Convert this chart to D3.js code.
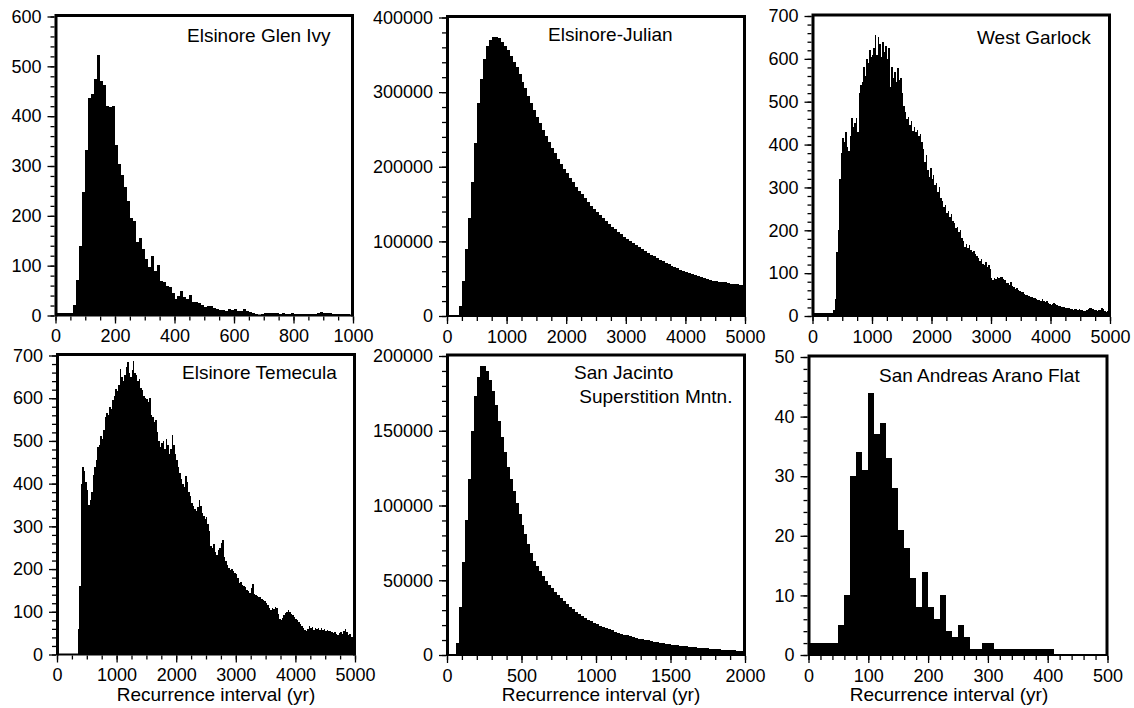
<!DOCTYPE html>
<meta charset="utf-8">
<head>
<style>
body { margin: 0; background: #fff; }
svg { display: block; }
.axis text { font-family: "Liberation Sans", Helvetica, Arial, sans-serif; font-size: 18px; fill: #000; }
.axis line { stroke: #000; stroke-width: 1.3px; }
.title, .xlabel { font-family: "Liberation Sans", Helvetica, Arial, sans-serif; font-size: 19px; fill: #000; }
.bar { fill: #000; shape-rendering: crispEdges; }
</style>
</head>
<body>
<svg id="plot" width="1134" height="708"></svg>

<script src="https://d3js.org/d3.v7.min.js"></script>
<script>

// ---- data: histogram counts per bin (bins start at 0) ----

// Elsinore Glen Ivy, 10 yr bins, 0-1000
var glenIvyCounts = [
  5,5,5,5,5,5,21,72,139,247,
  333,436,445,475,522,470,462,421,419,420,
  343,304,282,257,230,195,190,148,155,134,
  114,97,119,89,101,70,67,60,58,45,
  34,40,49,37,34,42,27,28,26,22,
  18,20,19,15,14,12,11,10,13,12,
  13,10,9,13,10,7,6,3,2,3,
  5,6,5,6,5,4,5,3,4,6,
  4,4,4,3,4,3,3,4,5,7,
  6,5,6,4,4,3,4,3,3,2];

// Elsinore-Julian, 50 yr bins, 0-5000
var julianCounts = [
  1500,1500,1500,2000,14000,47000,90000,131000,180000,232000,
  285000,318000,345000,362000,370000,373500,374000,372000,367000,362000,
  356000,349000,341000,333000,324000,314000,305000,295000,285000,276000,
  267000,258000,249000,241000,233000,225000,218000,211000,204000,197000,
  191000,185000,179000,173000,168000,163000,158000,153000,148000,144000,
  139000,135000,131000,127000,123000,119000,116000,113000,109500,106500,
  103500,100500,98000,95000,92000,89500,87000,84500,82000,80000,
  77500,75500,73500,71500,69500,67500,65500,64000,62000,60500,
  59000,57500,56000,54500,53000,52000,50500,49500,48500,47500,
  47000,46000,45500,45000,44000,43500,43000,42500,42000,41500];

// West Garlock, 25 yr bins, 0-5000
var garlockCounts = [
  6,6,6,6,6,6,6,6,6,6,
  6,6,6,6,15,40,150,200,320,380,
  415,405,430,395,385,420,462,440,450,462,
  430,520,540,545,580,560,600,590,620,605,
  610,625,655,610,650,635,605,640,615,630,
  600,625,535,580,555,570,545,578,550,555,
  520,490,475,460,465,445,455,432,440,430,
  435,420,425,405,390,360,375,340,325,345,
  320,330,305,310,290,300,275,268,255,260,
  240,245,232,238,222,218,205,208,195,200,
  182,175,162,168,158,165,155,150,152,145,
  140,135,128,132,122,120,125,115,120,110,
  88,85,88,86,90,88,92,90,86,84,
  78,76,72,80,70,68,64,65,60,58,
  55,56,52,50,48,47,45,44,42,43,
  40,38,38,35,40,35,32,34,30,28,
  26,29,30,28,25,24,23,22,21,20,
  18,19,18,16,17,15,16,17,15,16,
  14,15,12,11,15,17,18,19,17,15,
  14,12,13,14,18,16,12,10,12,11];

// Elsinore Temecula, 25 yr bins, 0-5000
var temeculaCounts = [
  0,0,0,0,0,0,0,0,0,0,
  0,0,0,0,60,160,400,438,430,405,
  385,350,362,380,420,440,455,485,490,512,
  505,525,555,565,560,580,575,595,605,622,
  618,632,668,650,640,655,672,685,660,650,
  665,688,660,655,640,645,625,620,605,600,
  598,590,600,560,555,545,550,520,500,485,
  495,500,480,505,490,470,480,515,490,470,
  455,440,425,410,398,392,418,405,380,370,
  355,348,340,335,345,362,348,332,325,318,
  322,305,290,255,250,258,240,232,245,250,
  262,268,228,220,210,202,198,200,195,190,
  188,180,168,170,162,160,158,150,148,145,
  155,165,142,140,138,135,134,130,128,125,
  120,115,108,105,110,106,112,108,95,82,
  80,85,92,96,100,105,100,95,92,88,
  84,80,76,72,66,62,58,55,60,66,
  62,64,58,62,60,63,58,62,57,60,
  56,58,54,55,52,50,52,48,46,50,
  52,48,55,60,52,45,48,40,42,36];

// San Jacinto Superstition Mntn., 20 yr bins, 0-2000
var sanJacintoCounts = [
  1000,1000,1000,8000,32000,62000,90000,118000,150000,173000,
  186000,193000,193500,190000,184000,176500,167000,156500,146000,135500,
  126000,117500,109500,102000,94000,87000,81000,74500,68500,63000,
  59500,56000,52800,49800,46800,44500,42000,40000,38000,36000,
  34000,32000,30500,29000,27500,26000,24800,23600,22500,21500,
  20600,19700,18800,18000,17200,16400,15700,15000,14300,13700,
  13100,12500,12000,11500,11000,10500,10100,9700,9300,8900,
  8600,8200,7900,7600,7300,7000,6700,6500,6200,6000,
  5800,5600,5400,5200,5000,4800,4600,4400,4200,4050,
  3900,3750,3600,3500,3350,3200,3100,3000,2900,2800];

// San Andreas Arano Flat, 10 yr bins, 0-500
var aranoCounts = [
  2,2,2,2,2,5,10,30,34,31,
  44,37,39,33,28,21,18,13,8,14,
  8,6,10,4,3,5,3,1,1,2,
  2,1,1,1,1,1,1,1,1,1,
  1,0,0,0,0,0,0,0,0,0];

// ---- tick labels ----
var glenIvyXTicks = [0, 200, 400, 600, 800, 1000];
var glenIvyYTicks = [0, 100, 200, 300, 400, 500, 600];
var julianXTicks = [0, 1000, 2000, 3000, 4000, 5000];
var julianYTicks = [0, 100000, 200000, 300000, 400000];
var garlockXTicks = [0, 1000, 2000, 3000, 4000, 5000];
var garlockYTicks = [0, 100, 200, 300, 400, 500, 600, 700];
var temeculaXTicks = [0, 1000, 2000, 3000, 4000, 5000];
var temeculaYTicks = [0, 100, 200, 300, 400, 500, 600, 700];
var sanJacintoXTicks = [0, 500, 1000, 1500, 2000];
var sanJacintoYTicks = [0, 50000, 100000, 150000, 200000];
var aranoXTicks = [0, 100, 200, 300, 400, 500];
var aranoYTicks = [0, 10, 20, 30, 40, 50];

var xLabel = "Recurrence interval (yr)";

// ---- layout ----
var panels = [
  {title: ["Elsinore Glen Ivy"], counts: glenIvyCounts, bin: 10, xmax: 1000, ymax: 600,
   xTicks: glenIvyXTicks, yTicks: glenIvyYTicks, xMinor: 50, yMinor: 20,
   left: 55.5, right: 353, top: 16.5, bottom: 315.5, tx: 187, ty: [41.5]},
  {title: ["Elsinore-Julian"], counts: julianCounts, bin: 50, xmax: 5000, ymax: 400000,
   xTicks: julianXTicks, yTicks: julianYTicks, xMinor: 250, yMinor: 20000,
   left: 447, right: 745, top: 17.5, bottom: 316, tx: 548, ty: [41]},
  {title: ["West Garlock"], counts: garlockCounts, bin: 25, xmax: 5000, ymax: 700,
   xTicks: garlockXTicks, yTicks: garlockYTicks, xMinor: 250, yMinor: 20,
   left: 812.5, right: 1110, top: 16, bottom: 316, tx: 977, ty: [44]},
  {title: ["Elsinore Temecula"], counts: temeculaCounts, bin: 25, xmax: 5000, ymax: 700,
   xTicks: temeculaXTicks, yTicks: temeculaYTicks, xMinor: 250, yMinor: 20,
   left: 57, right: 355, top: 355.5, bottom: 654.5, tx: 182, ty: [379], lx: 216},
  {title: ["San Jacinto", " Superstition Mntn."], counts: sanJacintoCounts, bin: 20, xmax: 2000, ymax: 200000,
   xTicks: sanJacintoXTicks, yTicks: sanJacintoYTicks, xMinor: 100, yMinor: 10000,
   left: 447, right: 745, top: 356, bottom: 655, tx: 574, ty: [378.5, 402.5], lx: 601},
  {title: ["San Andreas Arano Flat"], counts: aranoCounts, bin: 10, xmax: 500, ymax: 50,
   xTicks: aranoXTicks, yTicks: aranoYTicks, xMinor: 20, yMinor: 2,
   left: 808.5, right: 1107.5, top: 357, bottom: 655, tx: 879, ty: [381.5], lx: 949}
];

var svg = d3.select("#plot");

panels.forEach(function(p) {

  var x = d3.scaleLinear().domain([0, p.xmax]).range([p.left, p.right]);
  var y = d3.scaleLinear().domain([0, p.ymax]).range([p.bottom, p.top]);

  var g = svg.append("g");

  // bars
  g.selectAll(".bar").data(p.counts).enter().append("rect")
      .attr("class", "bar")
      .attr("x", function(d, i) { return x(i * p.bin); })
      .attr("width", function(d, i) { return x((i + 1) * p.bin) - x(i * p.bin); })
      .attr("y", function(d) { return y(d); })
      .attr("height", function(d) { return y(0) - y(d); });

  // minor ticks
  var xm = d3.range(0, p.xmax + 0.001, p.xMinor);
  var ym = d3.range(0, p.ymax + 0.001, p.yMinor);

  g.append("g").attr("class", "axis")
      .attr("transform", "translate(0," + (p.bottom + 1) + ")")
      .call(d3.axisBottom(x).tickValues(xm).tickSize(4).tickFormat(""))
      .call(function(a) { a.select(".domain").remove(); });

  g.append("g").attr("class", "axis")
      .attr("transform", "translate(" + (p.left - 1) + ",0)")
      .call(d3.axisLeft(y).tickValues(ym).tickSize(4).tickFormat(""))
      .call(function(a) { a.select(".domain").remove(); });

  // major ticks + labels
  g.append("g").attr("class", "axis")
      .attr("transform", "translate(0," + (p.bottom + 1) + ")")
      .call(d3.axisBottom(x).tickValues(p.xTicks).tickSize(7).tickPadding(6).tickFormat(d3.format("d")))
      .call(function(a) { a.select(".domain").remove(); });

  g.append("g").attr("class", "axis")
      .attr("transform", "translate(" + (p.left - 1) + ",0)")
      .call(d3.axisLeft(y).tickValues(p.yTicks).tickSize(7).tickPadding(6).tickFormat(d3.format("d")))
      .call(function(a) { a.select(".domain").remove(); });

  // frame: heavy left/top/right, lighter bottom
  g.append("path")
      .attr("d", "M" + (p.left + 0.5) + "," + (p.bottom + 1) + "V" + (p.top - 1) +
                 "H" + (p.right - 0.5) + "V" + (p.bottom + 1))
      .attr("fill", "none")
      .attr("stroke", "#000")
      .attr("stroke-width", 3);

  g.append("line")
      .attr("x1", p.left).attr("x2", p.right)
      .attr("y1", p.bottom).attr("y2", p.bottom)
      .attr("stroke", "#000")
      .attr("stroke-width", 2);

  // title
  p.title.forEach(function(t, k) {
    g.append("text")
        .attr("class", "title")
        .attr("x", p.tx)
        .attr("y", p.ty[k])
        .style("white-space", "pre")
        .text(t);
  });

  if (p.lx) {
    g.append("text")
        .attr("class", "xlabel")
        .attr("x", p.lx)
        .attr("y", 701)
        .attr("text-anchor", "middle")
        .text(xLabel);
  }
});

</script>
</body>
